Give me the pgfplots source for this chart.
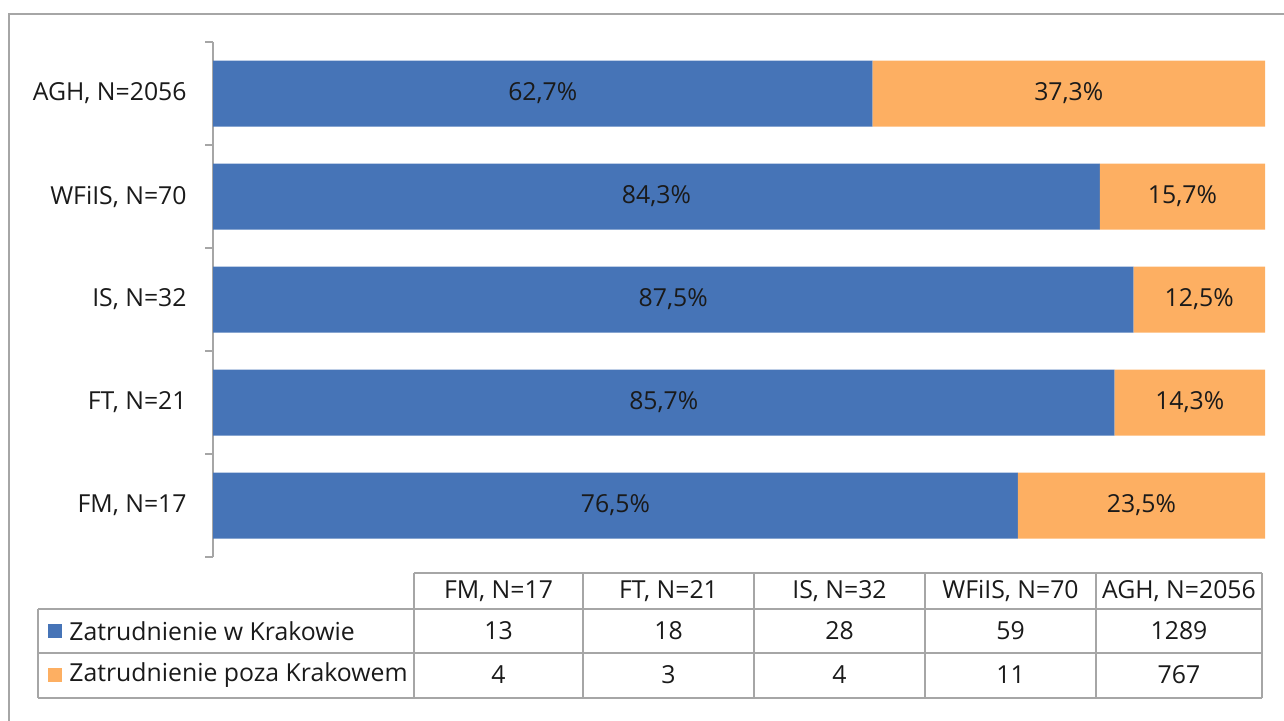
\documentclass[border=0pt]{standalone}
\usepackage{pgfplots}
\pgfplotsset{compat=1.18}
\usepackage{fontspec}
\setmainfont{Open Sans}
\definecolor{kblue}{HTML}{4674B7}
\definecolor{korange}{HTML}{FDAF62}
\definecolor{framec}{HTML}{A6A6A6}
\definecolor{txt}{HTML}{1A1A1A}

\begin{document}
\begin{tikzpicture}[font=\fontsize{12.4}{14}\selectfont,text=txt]
\useasboundingbox (0,0) rectangle (642pt,360pt);
\clip (0,0) rectangle (642pt,360pt);

\begin{axis}[
  at={(106.5pt,81.5pt)}, anchor=south west,
  scale only axis, width=526pt, height=257.5pt,
  xbar stacked, bar width=33pt,
  reverse stacked plots=false,
  xmin=0, xmax=100, ymin=-0.5, ymax=4.5,
  enlargelimits=false, clip=false,
  axis x line=none, axis y line*=left,
  axis line style={framec, line width=1pt},
  tick style={framec, line width=1pt},
  ytick={0,...,4},
  yticklabels={{FM, N=17},{FT, N=21},{IS, N=32},{WFiIS, N=70},{AGH, N=2056}},
  major tick length=0pt,
  yticklabel style={anchor=east, inner sep=0pt, xshift=-13pt, text=txt},
  extra y ticks={-0.5,0.5,1.5,2.5,3.5,4.5},
  extra y tick labels={},
  extra y tick style={major tick length=4pt, tick align=outside},
]
  % Zatrudnienie w Krakowie (%)
  \addplot[fill=kblue, draw=none] coordinates {(76.5,0) (85.7,1) (87.5,2) (84.3,3) (62.7,4)};
  % Zatrudnienie poza Krakowem (%)
  \addplot[fill=korange, draw=none] coordinates {(23.5,0) (14.3,1) (12.5,2) (15.7,3) (37.3,4)};

  \node[text=txt] at (axis cs:38.25,0) {76,5\%};
  \node[text=txt] at (axis cs:88.25,0) {23,5\%};
  \node[text=txt] at (axis cs:42.85,1) {85,7\%};
  \node[text=txt] at (axis cs:92.85,1) {14,3\%};
  \node[text=txt] at (axis cs:43.75,2) {87,5\%};
  \node[text=txt] at (axis cs:93.75,2) {12,5\%};
  \node[text=txt] at (axis cs:42.15,3) {84,3\%};
  \node[text=txt] at (axis cs:92.15,3) {15,7\%};
  \node[text=txt] at (axis cs:31.35,4) {62,7\%};
  \node[text=txt] at (axis cs:81.35,4) {37,3\%};
\end{axis}

\begin{scope}[x=0.5pt, y=-0.5pt, shift={(0pt,360pt)}]
\draw[framec,line width=1pt] (9,14) rectangle (1320,760);
% data table
\begin{scope}[framec, line width=1pt]
  \draw (414,573) -- (1262,573);
  \draw (38,609) -- (1262,609);
  \draw (38,653) -- (1262,653);
  \draw (38,698) -- (1262,698);
  \draw (38,609) -- (38,698);
  \foreach \xx in {414,583,754,925,1096,1262} \draw (\xx,573) -- (\xx,698);
\end{scope}
\foreach \xa/\xb/\h/\a/\b in {414/583/{FM, N=17}/13/4, 583/754/{FT, N=21}/18/3, 754/925/{IS, N=32}/28/4, 925/1096/{WFiIS, N=70}/59/11, 1096/1262/{AGH, N=2056}/1289/767} {
  \node at ({(\xa+\xb)/2},591) {\h};
  \node at ({(\xa+\xb)/2},631) {\a};
  \node at ({(\xa+\xb)/2},675) {\b};
}
\fill[kblue] (48,624) rectangle (62,638);
\fill[korange] (48,668) rectangle (62,682);
\node[anchor=west, inner sep=0pt] at (69,631) {Zatrudnienie w Krakowie};
\node[anchor=west, inner sep=0pt] at (69,675) {Zatrudnienie poza Krakowem};
\end{scope}
\end{tikzpicture}
\end{document}
